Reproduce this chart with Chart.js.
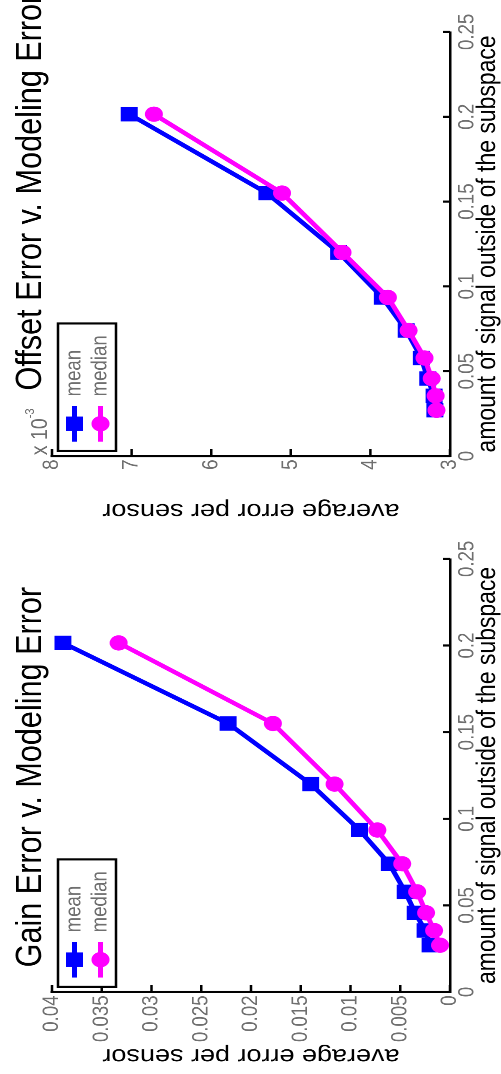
<!DOCTYPE html>
<html>
<head>
<meta charset="utf-8">
<title>Gain / Offset Error v. Modeling Error</title>
<script src="https://cdn.jsdelivr.net/npm/chart.js@4.4.1/dist/chart.umd.min.js"></script>
<style>
  html, body { margin: 0; padding: 0; background: #fff; overflow: hidden; }
  body { width: 501px; height: 1074px; position: relative; }
  /* the figure is laid out landscape, then turned a quarter turn like the scan */
  #page {
    position: absolute; left: 0; top: 0;
    width: 1264px; height: 501px;
    transform-origin: 0 0;
    transform: translateY(1074px) rotate(-90deg) scaleX(0.85);
  }
  #page canvas { position: absolute; top: 0; }
  #gain { left: 0; }
  #offset { left: 632px; }
</style>
</head>
<body>
<div id="page">
  <canvas id="gain" width="632" height="501"></canvas>
  <canvas id="offset" width="632" height="501"></canvas>
</div>
<script>
// ---- data ----
// amount of signal outside of the subspace
const modelErr = [0.027, 0.0355, 0.0457, 0.0578, 0.074, 0.0935, 0.12, 0.155, 0.2015];

// gain error, average per sensor
const gainMean   = [0.0020, 0.0025, 0.0035, 0.0045, 0.0061, 0.0091, 0.0140, 0.0223, 0.0389];
const gainMedian = [0.0010, 0.0016, 0.0024, 0.0033, 0.0048, 0.0073, 0.0116, 0.0178, 0.0333];

// offset error, average per sensor (x 10^-3)
const offsetMean   = [3.19, 3.20, 3.28, 3.36, 3.55, 3.85, 4.40, 5.30, 7.03];
const offsetMedian = [3.17, 3.18, 3.23, 3.32, 3.52, 3.78, 4.35, 5.11, 6.72];

const seriesLabels = ['mean', 'median'];
const xTicks = { min: 0, max: 0.25, step: 0.05 };
const gainTicks = { min: 0, max: 0.04, step: 0.005 };
const offsetTicks = { min: 3, max: 8, step: 1 };

// ---- style ----
const BLUE = '#0000ff';
const MAGENTA = '#ff00ff';
const GREY = '#6f6f6f';
const FONT = '"Liberation Sans", Arial, Helvetica, sans-serif';

const fmt = v => String(Number(Number(v).toFixed(6)));
const pts = (xs, ys) => xs.map((x, i) => ({ x: x, y: ys[i] }));

// matlab look: inward ticks, boxed legend, title, exponent note
const figureDecor = {
    id: 'figureDecor',
    afterDraw(chart, args, opts) {
        const ctx = chart.ctx;
        const a = chart.chartArea;
        const xs = chart.scales.x;
        const ys = chart.scales.y;
        ctx.save();

        // tick marks pointing into the axes
        ctx.strokeStyle = '#000';
        ctx.lineWidth = 2.5;
        ctx.beginPath();
        xs.ticks.forEach(t => {
            const px = xs.getPixelForValue(t.value);
            ctx.moveTo(px, a.bottom);
            ctx.lineTo(px, a.bottom - 7);
        });
        ys.ticks.forEach(t => {
            const py = ys.getPixelForValue(t.value);
            ctx.moveTo(a.left, py);
            ctx.lineTo(a.left + 8, py);
        });
        ctx.stroke();

        // title
        ctx.fillStyle = '#000';
        ctx.font = '36px ' + FONT;
        ctx.textAlign = 'center';
        ctx.textBaseline = 'alphabetic';
        ctx.fillText(opts.title, (a.left + a.right) / 2 + opts.titleShift, 41);

        // legend box, top left inside the axes
        const bx = a.left + 6, by = a.top + 6, bw = 150, bh = 58;
        ctx.fillStyle = '#fff';
        ctx.fillRect(bx, by, bw, bh);
        ctx.lineWidth = 2.5;
        ctx.strokeStyle = '#000';
        ctx.strokeRect(bx, by, bw, bh);

        chart.data.datasets.forEach((ds, i) => {
            const cy = by + 16.5 + i * 26;
            ctx.strokeStyle = ds.borderColor;
            ctx.lineWidth = ds.borderWidth;
            ctx.beginPath();
            ctx.moveTo(bx + 11, cy);
            ctx.lineTo(bx + 53, cy);
            ctx.stroke();
            ctx.fillStyle = ds.backgroundColor;
            Chart.helpers.drawPoint(ctx, {
                pointStyle: ds.pointStyle, radius: ds.pointRadius, rotation: 0, borderWidth: 0
            }, bx + 32, cy);
            ctx.fillStyle = GREY;
            ctx.font = '22px ' + FONT;
            ctx.textAlign = 'left';
            ctx.textBaseline = 'middle';
            ctx.fillText(ds.label, bx + 64, cy);
        });

        // "x 10^-3" above the y axis
        if (opts.exponent) {
            ctx.fillStyle = GREY;
            ctx.textAlign = 'left';
            ctx.textBaseline = 'alphabetic';
            ctx.font = '23px ' + FONT;
            ctx.fillText('x 10', a.left + 1, 47);
            const w = ctx.measureText('x 10').width;
            ctx.font = '13px ' + FONT;
            ctx.fillText(opts.exponent, a.left + 1 + w, 34);
        }
        ctx.restore();
    }
};

function axisOpts(range, title, extra) {
    return Object.assign({
        type: 'linear',
        min: range.min,
        max: range.max,
        ticks: {
            stepSize: range.step,
            autoSkip: false,
            maxRotation: 0,
            color: GREY,
            padding: 4,
            font: { family: FONT, size: 22 },
            callback: fmt
        },
        grid: { display: true, drawOnChartArea: false, drawTicks: false },
        border: { display: true, color: '#000', width: 2.5 },
        title: {
            display: true,
            text: title,
            color: '#000',
            font: { family: FONT, size: 27, lineHeight: 1 },
            padding: 0
        }
    }, extra);
}

function makeChart(canvas, cfg) {
    const yAxis = axisOpts(cfg.yRange, 'average error per sensor', {
        afterFit: s => { s.width = cfg.yWidth; }
    });
    yAxis.title.padding = { top: cfg.yTitlePad, bottom: 0 };
    yAxis.border.width = 3;

    return new Chart(canvas, {
        type: 'line',
        data: {
            datasets: [
                {
                    label: seriesLabels[0],
                    data: pts(modelErr, cfg.mean),
                    borderColor: BLUE,
                    backgroundColor: BLUE,
                    borderWidth: 5,
                    pointStyle: 'rect',
                    pointRadius: 12,
                    pointBorderWidth: 0,
                    tension: 0,
                    order: 1
                },
                {
                    label: seriesLabels[1],
                    data: pts(modelErr, cfg.median),
                    borderColor: MAGENTA,
                    backgroundColor: MAGENTA,
                    borderWidth: 5,
                    pointStyle: 'circle',
                    pointRadius: 9,
                    pointBorderWidth: 0,
                    tension: 0,
                    order: 0
                }
            ]
        },
        options: {
            responsive: false,
            animation: false,
            devicePixelRatio: 2,
            layout: { padding: { top: 52, right: cfg.padRight, left: 0, bottom: 0 } },
            plugins: {
                legend: { display: false },
                tooltip: { enabled: false },
                figureDecor: {
                    title: cfg.title,
                    titleShift: cfg.titleShift,
                    exponent: cfg.exponent
                }
            },
            scales: {
                x: axisOpts(xTicks, 'amount of signal outside of the subspace', {
                    position: 'bottom',
                    afterFit: s => { s.height = 51; }
                }),
                y: yAxis
            }
        },
        plugins: [figureDecor]
    });
}

makeChart(document.getElementById('gain'), {
    title: 'Gain Error v. Modeling Error',
    titleShift: -2,
    mean: gainMean,
    median: gainMedian,
    yRange: gainTicks,
    yWidth: 96.5,
    padRight: 26,
    yTitlePad: 8,
    exponent: null
});

makeChart(document.getElementById('offset'), {
    title: 'Offset Error v. Modeling Error',
    titleShift: 61,
    mean: offsetMean,
    median: offsetMedian,
    yRange: offsetTicks,
    yWidth: 95,
    padRight: 38,
    yTitlePad: 17.4,
    exponent: '-3'
});
</script>
</body>
</html>
